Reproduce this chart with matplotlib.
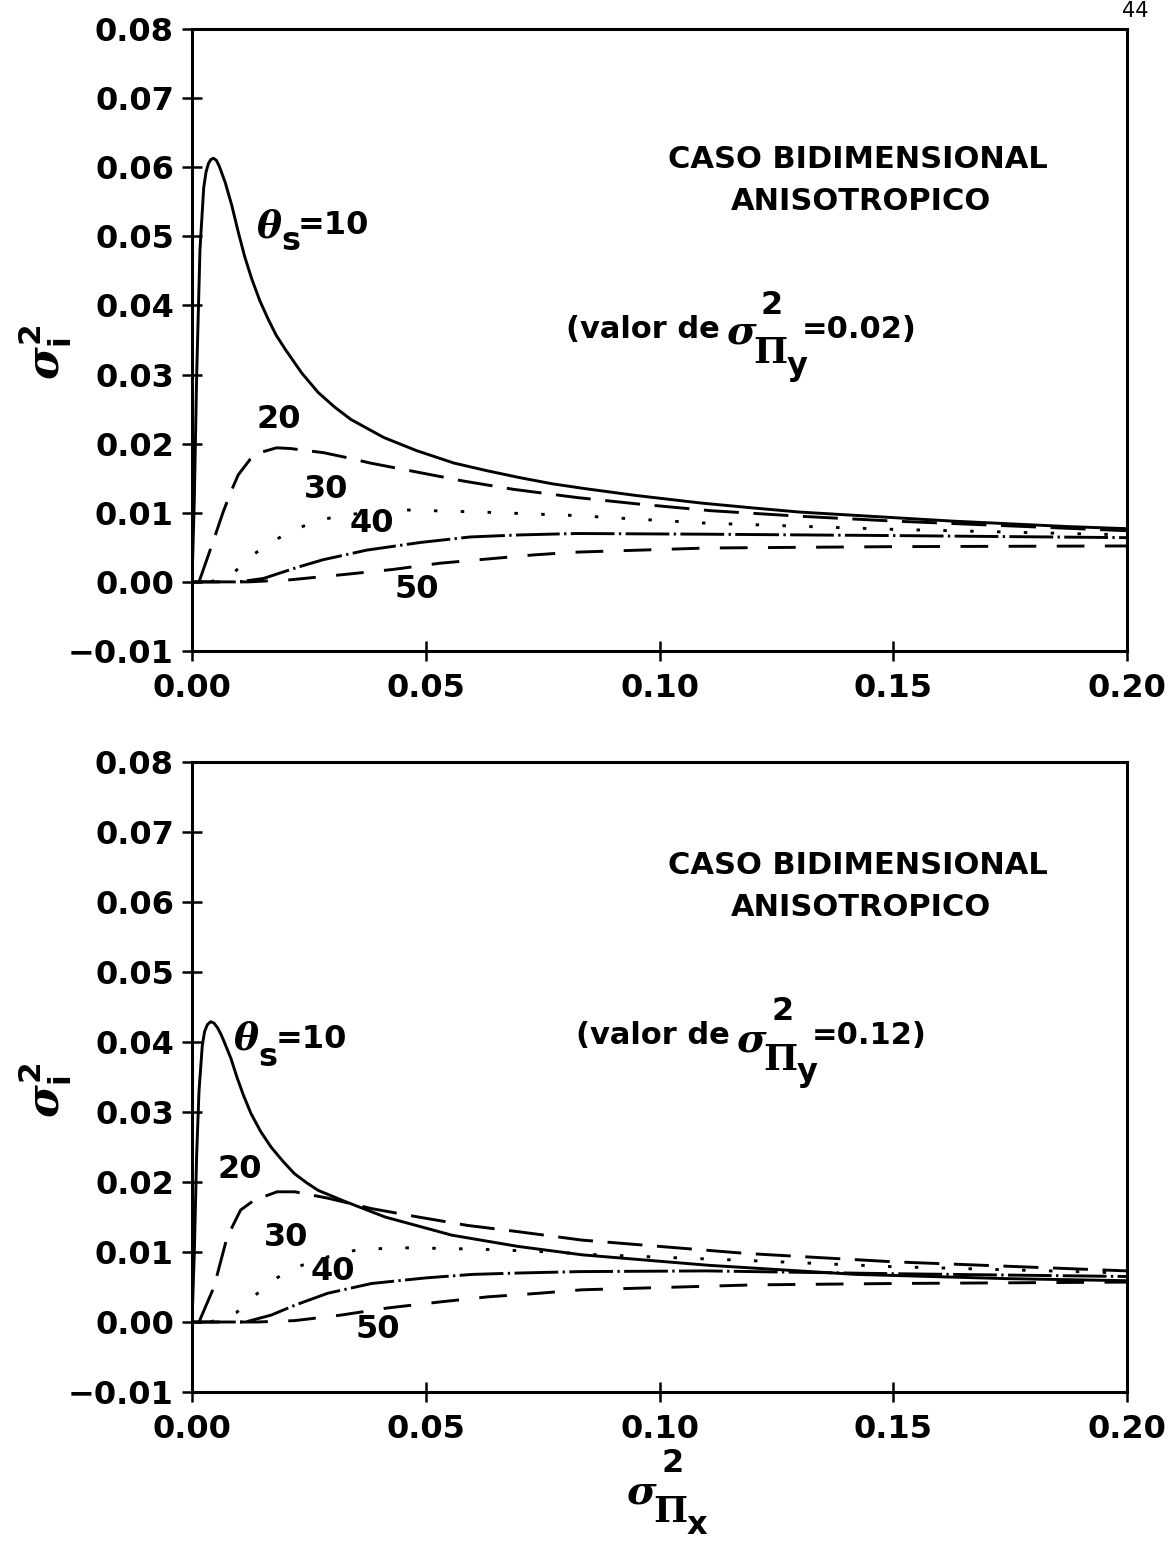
import numpy as np
import matplotlib.pyplot as plt

plt.rcParams['font.family'] = ['DejaVu Sans']
plt.rcParams['font.weight'] = 'bold'
plt.rcParams['mathtext.fontset'] = 'dejavuserif'

W, H = 1172, 1542

# upper panel, sigma^2_Pi_y = 0.02
x10_a = [0, 0.0005, 0.001, 0.0017, 0.0025, 0.003, 0.0035, 0.004, 0.0046, 0.0052, 0.0058, 0.0064, 0.0071, 0.0085,
         0.0099, 0.0113, 0.0128, 0.0145, 0.0163, 0.018, 0.020, 0.0235, 0.027, 0.0305, 0.034, 0.041, 0.048, 0.056,
         0.063, 0.070, 0.077, 0.084, 0.095, 0.109, 0.12, 0.13, 0.14, 0.15, 0.1625, 0.175, 0.1875, 0.20]
y10_a = [0, 0.012, 0.030, 0.048, 0.057, 0.0593, 0.0605, 0.0611, 0.0613, 0.0610, 0.0602, 0.0591, 0.0578, 0.0545,
         0.0506, 0.0470, 0.0438, 0.0407, 0.038, 0.0357, 0.0336, 0.0302, 0.0274, 0.0253, 0.0235, 0.0209, 0.019, 0.0172,
         0.0161, 0.0151, 0.0142, 0.0135, 0.0125, 0.0114, 0.0107, 0.0101, 0.0097, 0.0093, 0.0088, 0.0084, 0.0080, 0.0077]
x20_a = [0.0015, 0.0045, 0.0066, 0.0083, 0.0099, 0.0124, 0.015, 0.0181, 0.021, 0.0245, 0.0281, 0.033, 0.0381, 0.0473,
         0.058, 0.0687, 0.0824, 0.095, 0.111, 0.13, 0.15, 0.175, 0.20]
y20_a = [0, 0.0058, 0.010, 0.013, 0.0155, 0.0177, 0.0188, 0.0194, 0.0193, 0.019, 0.0187, 0.018, 0.0172, 0.016, 0.0146,
         0.0134, 0.0122, 0.0113, 0.0103, 0.0095, 0.0088, 0.0081, 0.0074]
x30_a = [0.004, 0.0092, 0.013, 0.0171, 0.0217, 0.0263, 0.031, 0.038, 0.0463, 0.062, 0.082, 0.11, 0.15, 0.20]
y30_a = [0, 0.0015, 0.0039, 0.0058, 0.0075, 0.0087, 0.0095, 0.0101, 0.0104, 0.0101, 0.0096, 0.0085, 0.0076, 0.0068]
x40_a = [0, 0.010, 0.0153, 0.0189, 0.023, 0.028, 0.0374, 0.0488, 0.0595, 0.0702, 0.0824, 0.11, 0.15, 0.20]
y40_a = [0, 0, 0.0005, 0.0013, 0.0022, 0.0032, 0.0046, 0.0057, 0.0065, 0.0068, 0.0070, 0.0069, 0.0067, 0.0064]
x50_a = [0, 0.012, 0.021, 0.033, 0.043, 0.053, 0.063, 0.073, 0.082, 0.11, 0.15, 0.20]
y50_a = [0, 0, 0.0003, 0.0011, 0.0018, 0.0027, 0.0033, 0.0039, 0.0043, 0.0049, 0.0051, 0.0052]

# lower panel, sigma^2_Pi_y = 0.12
x10_b = [0, 0.0005, 0.001, 0.0015, 0.0022, 0.0027, 0.0033, 0.004, 0.0047, 0.0055, 0.0062, 0.0069, 0.0083, 0.0096,
         0.011, 0.0126, 0.0147, 0.0169, 0.0194, 0.0219, 0.0245, 0.027, 0.0328, 0.0413, 0.0556, 0.0697, 0.0834, 0.1105,
         0.142, 0.174, 0.20]
y10_b = [0, 0.010, 0.024, 0.033, 0.0395, 0.0415, 0.0425, 0.0429, 0.0427, 0.0420, 0.0411, 0.0400, 0.0377, 0.035,
         0.0324, 0.0298, 0.0272, 0.025, 0.023, 0.0212, 0.0199, 0.0188, 0.0172, 0.015, 0.0124, 0.0108, 0.0096, 0.0081,
         0.0068, 0.0062, 0.0059]
x20_b = [0.0015, 0.0047, 0.0075, 0.0104, 0.0133, 0.0182, 0.022, 0.029, 0.0384, 0.0484, 0.0589, 0.0698, 0.0834,
         0.1184, 0.150, 0.20]
y20_b = [0, 0.005, 0.0121, 0.016, 0.0174, 0.0186, 0.0186, 0.0177, 0.0162, 0.015, 0.0138, 0.0129, 0.0117, 0.0098,
         0.0086, 0.0073]
x30_b = [0.004, 0.0096, 0.0135, 0.0174, 0.0217, 0.0267, 0.0313, 0.0363, 0.0463, 0.0617, 0.077, 0.0867, 0.1184, 0.15, 0.20]
y30_b = [0, 0.0014, 0.0038, 0.006, 0.0077, 0.0088, 0.0098, 0.0104, 0.0106, 0.0104, 0.010, 0.0096, 0.0088, 0.0079, 0.0070]
x40_b = [0, 0.0114, 0.017, 0.022, 0.029, 0.0384, 0.05, 0.06, 0.07, 0.083, 0.11, 0.15, 0.20]
y40_b = [0, 0, 0.001, 0.0024, 0.0041, 0.0055, 0.0063, 0.0068, 0.007, 0.0072, 0.0073, 0.0069, 0.0065]
x50_b = [0, 0.014, 0.022, 0.032, 0.0418, 0.0535, 0.0634, 0.0741, 0.0834, 0.12, 0.15, 0.20]
y50_b = [0, 0, 0.0002, 0.001, 0.002, 0.0029, 0.0036, 0.0041, 0.0046, 0.0053, 0.0055, 0.0057]

xticks = [0.00, 0.05, 0.10, 0.15, 0.20]
yticks = [-0.01, 0.00, 0.01, 0.02, 0.03, 0.04, 0.05, 0.06, 0.07, 0.08]
pi_y_values = ['0.02', '0.12']

styles = {
    10: '-',
    20: (0, (12, 5)),
    30: (0, (1.2, 8.0)),
    40: (0, (15, 1.5, 0.8, 1.5)),
    50: (0, (9.5, 7)),
}


def px(x, y):
    return x / W, 1 - y / H


def fmt(v):
    s = '%.2f' % abs(v)
    return '\u2212' + s if v < 0 else s


def sigma_pi(fig, sx, sy, sub, fs=23):
    # sigma with 2 on top and Pi_sub underneath, like the old plotter did it
    fig.text(*px(sx, sy), r'$\sigma$', fontsize=fs + 6, fontweight='normal', ha='left', va='center')
    fig.text(*px(sx + 35, sy - 28), '2', fontsize=fs, ha='left', va='center')
    fig.text(*px(sx + 27, sy + 20), r'$\Pi$', fontsize=fs + 3, fontweight='normal', ha='left', va='center')
    fig.text(*px(sx + 61, sy + 33), sub, fontsize=fs, ha='left', va='center')


fig = plt.figure(figsize=(W / 100, H / 100), dpi=100)
ax1 = fig.add_axes([192 / W, 1 - 651 / H, 935 / W, 622 / H])
ax2 = fig.add_axes([192 / W, 1 - 1392 / H, 935 / W, 630 / H])

panels = [
    (ax1, [(x10_a, y10_a), (x20_a, y20_a), (x30_a, y30_a), (x40_a, y40_a), (x50_a, y50_a)]),
    (ax2, [(x10_b, y10_b), (x20_b, y20_b), (x30_b, y30_b), (x40_b, y40_b), (x50_b, y50_b)]),
]

for ax, curves in panels:
    for theta, (xs, ys) in zip([10, 20, 30, 40, 50], curves):
        ax.plot(xs, ys, color='black', lw=2.1, linestyle=styles[theta], dash_capstyle='butt')
    ax.set_xlim(0, 0.20)
    ax.set_ylim(-0.01, 0.08)
    ax.set_xticks(xticks)
    ax.set_yticks(yticks)
    ax.set_xticklabels([fmt(v) for v in xticks])
    ax.set_yticklabels([fmt(v) for v in yticks])
    ax.tick_params(direction='inout', length=14, width=1.8, labelsize=23, top=False, right=False)
    ax.tick_params(axis='x', pad=9)
    ax.tick_params(axis='y', pad=6)
    for s in ax.spines.values():
        s.set_linewidth(2.2)

# curve labels, upper panel
fig.text(*px(256, 227), r'$\theta$', fontsize=27, fontweight='normal', ha='left', va='center')
fig.text(*px(281, 242), 's', fontsize=23, ha='left', va='center')
fig.text(*px(298, 226), '=10', fontsize=23, ha='left', va='center')
fig.text(*px(279, 420), '20', fontsize=23, ha='center', va='center')
fig.text(*px(326, 490), '30', fontsize=23, ha='center', va='center')
fig.text(*px(372, 524), '40', fontsize=23, ha='center', va='center')
fig.text(*px(417, 589), '50', fontsize=23, ha='center', va='center')

# curve labels, lower panel
fig.text(*px(233, 1040), r'$\theta$', fontsize=27, fontweight='normal', ha='left', va='center')
fig.text(*px(258, 1057), 's', fontsize=23, ha='left', va='center')
fig.text(*px(276, 1040), '=10', fontsize=23, ha='left', va='center')
fig.text(*px(240, 1170), '20', fontsize=23, ha='center', va='center')
fig.text(*px(286, 1238), '30', fontsize=23, ha='center', va='center')
fig.text(*px(333, 1272), '40', fontsize=23, ha='center', va='center')
fig.text(*px(378, 1329), '50', fontsize=23, ha='center', va='center')

# titles and parameter notes
for (cy, sx, sy), val in zip([(160, 726, 333), (866, 736, 1040)], pi_y_values):
    fig.text(*px(858, cy), 'CASO BIDIMENSIONAL', fontsize=22, ha='center', va='center')
    fig.text(*px(861, cy + 41), 'ANISOTROPICO', fontsize=22, ha='center', va='center')
    fig.text(*px(sx - 6, sy - 4), '(valor de', fontsize=22, ha='right', va='center')
    sigma_pi(fig, sx, sy, 'y')
    fig.text(*px(sx + 76, sy - 4), '=' + val + ')', fontsize=22, ha='left', va='center')

# axis labels
fig.text(*px(45, 352), r'$\sigma_{\mathsf{i}}^{\mathsf{2}}$', fontsize=32, fontweight='normal', rotation=90,
         ha='center', va='center')
fig.text(*px(45, 1090), r'$\sigma_{\mathsf{i}}^{\mathsf{2}}$', fontsize=32, fontweight='normal', rotation=90,
         ha='center', va='center')
sigma_pi(fig, 626, 1492, 'x')

fig.text(*px(1135, 1), '44', fontsize=15, fontweight='normal', ha='center', va='top')

fig.savefig('out.png', dpi=100)
